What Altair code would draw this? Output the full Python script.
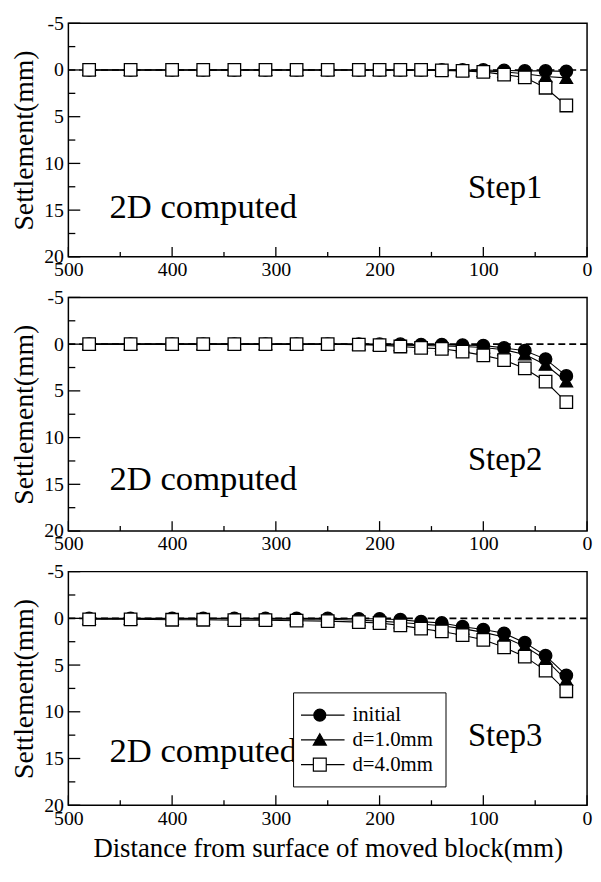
import altair as alt
import pandas as pd

# distance from surface of moved block (mm)
X = [480, 440, 400, 370, 340, 310, 280, 250, 220, 200, 180, 160, 140, 120, 100, 80, 60, 40, 20]
SERIES = ["initial", "d=1.0mm", "d=4.0mm"]
STEPS = ["Step1", "Step2", "Step3"]

STEP1_INITIAL = [0, 0, 0, 0, 0, 0, 0, 0, 0, 0, 0, 0, 0, 0, 0, 0.05, 0.1, 0.1, 0.15]
STEP1_D1 = [0, 0, 0, 0, 0, 0, 0, 0, 0, 0, 0, 0, 0, 0.05, 0.1, 0.2, 0.4, 0.7, 0.85]
STEP1_D4 = [0, 0, 0, 0, 0, 0, 0, 0, 0, 0, 0, 0, 0.05, 0.1, 0.2, 0.5, 0.8, 1.9, 3.8]

STEP2_INITIAL = [0, 0, 0, 0, 0, 0, 0, 0, 0, 0, 0, 0.05, 0.05, 0.1, 0.15, 0.4, 0.7, 1.6, 3.4]
STEP2_D1 = [0, 0, 0, 0, 0, 0, 0, 0, 0, 0.05, 0.1, 0.15, 0.2, 0.25, 0.35, 0.6, 1.1, 2.2, 4.0]
STEP2_D4 = [0, 0, 0, 0, 0, 0, 0, 0, 0.05, 0.1, 0.25, 0.4, 0.5, 0.8, 1.2, 1.7, 2.6, 4.0, 6.2]

STEP3_INITIAL = [0, 0, 0, 0, 0, 0, 0, 0, 0.05, 0.05, 0.15, 0.35, 0.5, 0.9, 1.2, 1.6, 2.6, 4.0, 6.1]
STEP3_D1 = [0.05, 0.05, 0.05, 0.05, 0.05, 0.1, 0.1, 0.1, 0.2, 0.3, 0.45, 0.6, 0.8, 1.1, 1.5, 2.0, 3.0, 4.4, 6.6]
STEP3_D4 = [0.1, 0.1, 0.15, 0.15, 0.2, 0.2, 0.25, 0.3, 0.4, 0.5, 0.75, 1.1, 1.4, 1.8, 2.3, 3.1, 4.1, 5.6, 7.8]

STEP_DATA = [
    [STEP1_INITIAL, STEP1_D1, STEP1_D4],
    [STEP2_INITIAL, STEP2_D1, STEP2_D4],
    [STEP3_INITIAL, STEP3_D1, STEP3_D4],
]

X_MAJOR = [500, 400, 300, 200, 100, 0]
X_MINOR = [450, 350, 250, 150, 50]
Y_MAJOR = [-5, 0, 5, 10, 15, 20]
Y_MINOR = [-2.5, 2.5, 7.5, 12.5, 17.5]

NOTE_TEXT = "2D computed"
NOTE_X = [370, 370, 370]
NOTE_Y = [15.8, 15.6, 15.4]
STEP_X = [79, 79, 79]
STEP_Y = [13.75, 13.5, 13.7]

X_TITLE = "Distance from surface of moved block(mm)"
Y_TITLE = "Settlement(mm)"

SHAPES = ["circle", "triangle-up", "square"]
FILLS = ["black", "black", "white"]
LEGEND_PATHS = [
    "M-1.5,0H2.9 M-0.2,0A0.6,0.6 0 1,1 1,0A0.6,0.6 0 1,1 -0.2,0Z",
    "M-1.5,0H2.9 M0.4,-0.62L1.06,0.52H-0.26Z",
    "M-1.5,0H-0.25 M1.05,0H2.9 M-0.25,-0.65H1.05V0.65H-0.25Z",
]

W, H = 524, 236
FONT = "Liberation Serif"


def panel(i):
    rows = []
    for s, vals in zip(SERIES, STEP_DATA[i]):
        for xv, yv in zip(X, vals):
            rows.append({"x": xv, "y": yv, "series": s})
    df = pd.DataFrame(rows)

    xs = alt.Scale(domain=[0, 500], reverse=True, nice=False, zero=False)
    ys = alt.Scale(domain=[-5, 20], reverse=True, nice=False, zero=False)
    last = i == 2
    x_axis = alt.Axis(
        values=X_MAJOR, format="d", ticks=False, domain=False, grid=False,
        labelPadding=3, labelFlush=False, labelFont=FONT, labelFontSize=20, labelColor="black",
        title=X_TITLE if last else None,
        titleFont=FONT, titleFontSize=27, titleFontWeight="normal", titleColor="black",
        titleY=52, titleBaseline="alphabetic",
    )
    y_axis = alt.Axis(
        values=Y_MAJOR, ticks=False, domain=False, grid=False, labelPadding=5,
        labelFlush=False, labelExpr="datum.value + ''",
        labelFont=FONT, labelFontSize=20, labelColor="black",
        title=Y_TITLE, titleFont=FONT, titleFontSize=28, titleFontWeight="normal",
        titleColor="black", titlePadding=5,
    )

    def xe(field="x"):
        return alt.X(f"{field}:Q", scale=xs, axis=x_axis)

    def ye(field="y"):
        return alt.Y(f"{field}:Q", scale=ys, axis=y_axis)

    zero = alt.Chart(pd.DataFrame({"y": [0]})).mark_rule(
        color="black", strokeDash=[7, 4], strokeWidth=1.7
    ).encode(y=ye())

    xt_major = alt.Chart(pd.DataFrame({"x": X_MAJOR})).mark_rule(color="black", strokeWidth=1.3).encode(
        x=xe(), y=alt.value(H), y2=alt.value(H - 10))
    xt_minor = alt.Chart(pd.DataFrame({"x": X_MINOR})).mark_rule(color="black", strokeWidth=1.3).encode(
        x=xe(), y=alt.value(H), y2=alt.value(H - 5))
    yt_major = alt.Chart(pd.DataFrame({"y": Y_MAJOR})).mark_rule(color="black", strokeWidth=1.3).encode(
        y=ye(), x=alt.value(0), x2=alt.value(12))
    yt_minor = alt.Chart(pd.DataFrame({"y": Y_MINOR})).mark_rule(color="black", strokeWidth=1.3).encode(
        y=ye(), x=alt.value(0), x2=alt.value(7))

    base = alt.Chart(df)
    lines = base.mark_line(color="black", strokeWidth=1.1).encode(
        x=xe(), y=ye(), detail="series:N",
    )
    points = base.mark_point(opacity=1, stroke="black", strokeWidth=1.3, size=160).encode(
        x=xe(), y=ye(),
        shape=alt.Shape("series:N", scale=alt.Scale(domain=SERIES, range=SHAPES), legend=None),
        fill=alt.Fill("series:N", scale=alt.Scale(domain=SERIES, range=FILLS), legend=None),
    )

    notes = alt.Chart(pd.DataFrame({"x": [NOTE_X[i]], "y": [NOTE_Y[i]], "t": [NOTE_TEXT]})).mark_text(
        font=FONT, fontSize=35, color="black", baseline="alphabetic"
    ).encode(x=xe(), y=ye(), text="t:N")
    step = alt.Chart(pd.DataFrame({"x": [STEP_X[i]], "y": [STEP_Y[i]], "t": [STEPS[i]]})).mark_text(
        font=FONT, fontSize=33, color="black", baseline="alphabetic"
    ).encode(x=xe(), y=ye(), text="t:N")

    layers = [zero, xt_major, xt_minor, yt_major, yt_minor, lines, points, notes, step]

    if last:
        leg = alt.Legend(
            title=None, orient="none", legendX=227, legendY=122,
            strokeColor="black", fillColor="white", padding=12,
            labelFont=FONT, labelFontSize=21, labelColor="black", labelOffset=26,
            symbolSize=400, symbolStrokeWidth=1.2,
            rowPadding=4,
        )
        legend_layer = alt.Chart(pd.DataFrame({"series": SERIES})).transform_filter("false").mark_point(
            opacity=1, strokeWidth=1.2
        ).encode(
            shape=alt.Shape("series:N", scale=alt.Scale(domain=SERIES, range=LEGEND_PATHS), legend=leg),
            fill=alt.Fill("series:N", scale=alt.Scale(domain=SERIES, range=FILLS), legend=leg),
            stroke=alt.Stroke("series:N", scale=alt.Scale(domain=SERIES, range=["black", "black", "black"]), legend=leg),
        )
        layers.append(legend_layer)

    return alt.layer(*layers).resolve_scale(
        shape="independent", fill="independent", stroke="independent"
    ).properties(width=W, height=H)


chart = alt.vconcat(panel(0), panel(1), panel(2), spacing=41, bounds="flush").resolve_scale(
    x="independent", y="independent", shape="independent", fill="independent", stroke="independent"
).resolve_legend(shape="independent", fill="independent", stroke="independent").properties(
    padding={"left": 2, "top": 0, "right": 0, "bottom": 0}, background="white"
).configure_view(stroke="black", strokeWidth=1.5).configure_axis(
    labelFont=FONT, labelFontSize=20, labelColor="black",
    titleFont=FONT, titleColor="black", titleFontWeight="normal",
)

chart.save("out.html", embed_options={"renderer": "svg", "actions": False})
